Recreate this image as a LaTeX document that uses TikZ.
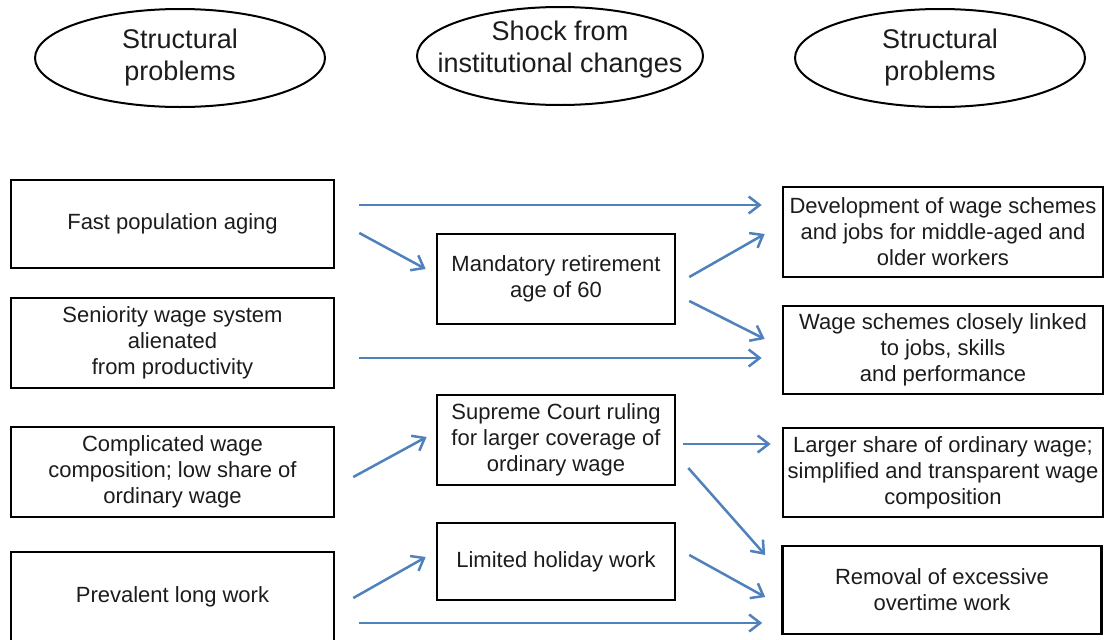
\documentclass[tikz,border=0pt]{standalone}
\usepackage{fontspec}
\setmainfont{Liberation Sans}
\usetikzlibrary{arrows.meta}
\definecolor{arrowblue}{RGB}{79,129,189}
\definecolor{inkgray}{RGB}{28,28,28}

\begin{document}
\begin{tikzpicture}[x=1pt,y=-1pt,
  box/.style={draw=black, line width=2.6pt, text=inkgray, align=center,
    inner sep=0pt, font=\fontsize{22}{26}\selectfont},
  head/.style={text=inkgray, align=center, inner sep=0pt,
    font=\fontsize{27}{32}\selectfont},
  oval/.style={draw=black, line width=2pt},
  flow/.style={draw=arrowblue, line width=2.5pt,
    -{Straight Barb[length=11pt,width=17pt]}}]

% canvas
\fill[white] (0,0) rectangle (1106,640);
\useasboundingbox (0,0) rectangle (1106,640);

% column headings
\node[head] (E1) at (180,58) {Structural\\problems};
\draw[oval] (E1.center) ellipse [x radius=145pt, y radius=49pt];
\node[head] (E2) at (560,50) {Shock from\\institutional changes};
\draw[oval] ([yshift=-6pt]E2.center) ellipse [x radius=143pt, y radius=49pt];
\node[head] (E3) at (940,58) {Structural\\problems};
\draw[oval] (E3.center) ellipse [x radius=145pt, y radius=49pt];

% structural problems (left)
\node[box, minimum width=323pt, minimum height=88pt] (L1) at (172.5,224) {Fast population aging};
\node[box, minimum width=323pt, minimum height=90pt] (L2) at (172.5,343) {Seniority wage system\\alienated\\from productivity};
\node[box, minimum width=323pt, minimum height=90pt] (L3) at (172.5,472) {Complicated wage\\composition; low share of\\ordinary wage};
\node[box, minimum width=323pt, minimum height=90pt] (L4) at (172.5,597) {Prevalent long work};

% institutional shocks (middle)
\node[box, minimum width=238pt, minimum height=90pt] (M1) at (556,279) {Mandatory retirement\\age of 60};
\node[box, minimum width=238pt, minimum height=90pt] (M2) at (556,440) {Supreme Court ruling\\for larger coverage of\\ordinary wage};
\node[box, minimum width=238pt, minimum height=77pt] (M3) at (556,561.5) {Limited holiday work};

% structural problems (right)
\node[box, minimum width=320pt, minimum height=90pt] (R1) at (943,232) {Development of wage schemes\\and jobs for middle-aged and\\older workers};
\node[box, minimum width=320pt, minimum height=88pt] (R2) at (943,350) {Wage schemes closely linked\\to jobs, skills\\and performance};
\node[box, minimum width=320pt, minimum height=89pt] (R3) at (943,472.5) {Larger share of ordinary wage;\\simplified and transparent wage\\composition};
\node[box, minimum width=319pt, minimum height=88pt] (R4) at (942,590) {Removal of excessive\\overtime work};

% connectors
\draw[flow] ([shift={(24,-19)}]L1.east) -- ([shift={(-20,-27)}]R1.west);
\draw[flow] ([shift={(24,9)}]L1.east) -- ([shift={(-10,-10)}]M1.west);
\draw[flow] ([shift={(13,-2)}]M1.east) -- ([shift={(-17,2)}]R1.west);
\draw[flow] ([shift={(13,22)}]M1.east) -- ([shift={(-17,-11)}]R2.west);
\draw[flow] ([shift={(24,15)}]L2.east) -- ([shift={(-20,8)}]R2.west);
\draw[flow] ([shift={(18,5)}]L3.east) -- ([shift={(-9,-3)}]M2.west);
\draw[flow] ([shift={(7,4)}]M2.east) -- ([shift={(-11,-28.5)}]R3.west);
\draw[flow] ([shift={(12,28)}]M2.east) -- ([shift={(-16,-35)}]R4.west);
\draw[flow] ([shift={(18,1)}]L4.east) -- ([shift={(-10,-4.5)}]M3.west);
\draw[flow] ([shift={(13,-6.5)}]M3.east) -- ([shift={(-16,7)}]R4.west);
\draw[flow] ([shift={(24,26)}]L4.east) -- ([shift={(-19,33)}]R4.west);
\end{tikzpicture}
\end{document}
